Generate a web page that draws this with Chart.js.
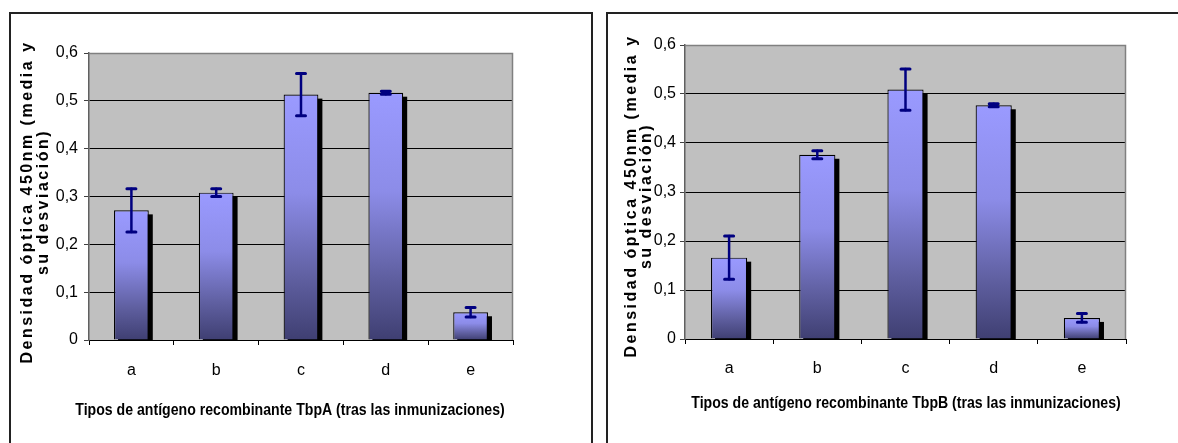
<!DOCTYPE html>
<html>
<head>
<meta charset="utf-8">
<script src="https://cdn.jsdelivr.net/npm/chart.js@4.4.1/dist/chart.umd.min.js"></script>
<style>
  html, body { margin: 0; padding: 0; background: #fff; overflow: hidden; width: 1178px; height: 443px; }
  .box { position: absolute; border: 2px solid #222; border-bottom: none; box-sizing: border-box; }
  #boxA { left: 9px; top: 12px; width: 584px; height: 440px; }
  #boxB { left: 606px; top: 12px; width: 600px; height: 440px; }
  canvas { position: absolute; left: 0; top: 0; }
</style>
</head>
<body>
<div class="box" id="boxA"><canvas id="chartA" width="580" height="429"></canvas></div>
<div class="box" id="boxB"><canvas id="chartB" width="572" height="429"></canvas></div>
<script>
// data
const categories = ['a', 'b', 'c', 'd', 'e'];
const tbpaMeans = [0.271, 0.308, 0.513, 0.517, 0.058];
const tbpaSd = [0.045, 0.008, 0.044, 0.003, 0.010];
const tbpbMeans = [0.166, 0.376, 0.509, 0.477, 0.043];
const tbpbSd = [0.044, 0.008, 0.042, 0.003, 0.009];
const yTickLabels = ['0', '0,1', '0,2', '0,3', '0,4', '0,5', '0,6'];
const yTitleLines = ['Densidad óptica 450nm (media y', 'su desviación)'];
const xTitleA = 'Tipos de antígeno recombinante TbpA (tras las inmunizaciones)';
const xTitleB = 'Tipos de antígeno recombinante TbpB (tras las inmunizaciones)';

const sans = '"Liberation Sans", Arial, sans-serif';

// grey plot area + right border
const plotBg = {
  id: 'plotBg',
  beforeDraw(chart) {
    const { ctx, chartArea: a } = chart;
    ctx.save();
    ctx.fillStyle = '#c0c0c0';
    ctx.fillRect(a.left, a.top, a.right - a.left, a.bottom - a.top);
    ctx.restore();
  },
  beforeDatasetsDraw(chart) {
    const { ctx, chartArea: a } = chart;
    ctx.save();
    ctx.strokeStyle = '#808080';
    ctx.lineWidth = 1.5;
    ctx.beginPath();
    ctx.moveTo(a.left, a.top + 0.5);
    ctx.lineTo(a.right - 0.5, a.top + 0.5);
    ctx.lineTo(a.right - 0.5, a.bottom);
    ctx.stroke();
    ctx.restore();
  }
};

// black drop shadow behind each bar
const barShadow = {
  id: 'barShadow',
  beforeDatasetsDraw(chart) {
    const { ctx, chartArea: a } = chart;
    const meta = chart.getDatasetMeta(0);
    ctx.save();
    ctx.beginPath();
    ctx.rect(a.left, a.top, a.right - a.left, a.bottom - a.top);
    ctx.clip();
    ctx.fillStyle = '#000';
    meta.data.forEach(bar => {
      const p = bar.getProps(['x', 'y', 'base', 'width'], true);
      ctx.fillRect(p.x - p.width / 2 + 4, p.y + 4, p.width, p.base - p.y);
    });
    ctx.restore();
  }
};

// error bars from the sd arrays
const errorBars = {
  id: 'errorBars',
  afterDatasetsDraw(chart, args, opts) {
    const { ctx } = chart;
    const y = chart.scales.y;
    const meta = chart.getDatasetMeta(0);
    const means = chart.data.datasets[0].data;
    ctx.save();
    ctx.strokeStyle = '#000080';
    ctx.lineCap = 'round';
    meta.data.forEach((bar, i) => {
      const x = bar.x;
      const top = y.getPixelForValue(means[i] + opts.sd[i]);
      const bot = y.getPixelForValue(means[i] - opts.sd[i]);
      ctx.lineWidth = 2.5;
      ctx.beginPath();
      ctx.moveTo(x, top);
      ctx.lineTo(x, bot);
      ctx.stroke();
      ctx.lineWidth = 3;
      ctx.beginPath();
      ctx.moveTo(x - 4.5, top);
      ctx.lineTo(x + 4.5, top);
      ctx.moveTo(x - 4.5, bot);
      ctx.lineTo(x + 4.5, bot);
      ctx.stroke();
    });
    ctx.restore();
  }
};

// axis titles: rotated letter-spaced y title, narrow bold x title
const axisTitles = {
  id: 'axisTitles',
  afterDraw(chart, args, opts) {
    const { ctx } = chart;
    ctx.save();
    ctx.translate(opts.yx, opts.yy);
    ctx.rotate(-Math.PI / 2);
    ctx.font = 'bold 16px ' + sans;
    ctx.letterSpacing = '2.5px';
    ctx.fillStyle = '#000';
    ctx.textAlign = 'center';
    ctx.textBaseline = 'middle';
    yTitleLines.forEach((line, i) => ctx.fillText(line, 0, i * opts.gap));
    ctx.restore();

    ctx.save();
    ctx.translate(opts.xx, opts.xy);
    ctx.scale(0.83, 1);
    ctx.font = 'bold 17px ' + sans;
    ctx.fillStyle = '#000';
    ctx.textAlign = 'center';
    ctx.textBaseline = 'middle';
    ctx.fillText(opts.text, 0, 0);
    ctx.restore();
  }
};

function barGradient(context) {
  const chart = context.chart;
  if (!chart.chartArea || context.raw === undefined) return '#9999ff';
  const y = chart.scales.y;
  const top = y.getPixelForValue(context.raw);
  const bottom = y.getPixelForValue(0);
  const g = chart.ctx.createLinearGradient(0, top, 0, bottom);
  g.addColorStop(0, '#9a9aff');
  g.addColorStop(0.4, '#8c8ce8');
  g.addColorStop(0.75, '#5f5fa0');
  g.addColorStop(1, '#3f3f72');
  return g;
}

function makeChart(id, means, sd, xTitle, lay) {
  return new Chart(document.getElementById(id), {
    type: 'bar',
    data: {
      labels: categories,
      datasets: [{
        data: means,
        backgroundColor: barGradient,
        borderColor: '#000',
        borderWidth: 1.2,
        borderSkipped: 'bottom',
        barPercentage: 0.41,
        categoryPercentage: 1
      }]
    },
    options: {
      responsive: false,
      animation: false,
      events: [],
      layout: { padding: { left: 0, top: lay.top, right: lay.right, bottom: 0 } },
      plugins: {
        legend: { display: false },
        tooltip: { enabled: false },
        errorBars: { sd: sd },
        axisTitles: { yx: lay.titleX, yy: lay.titleY, gap: lay.titleGap, xx: lay.xTitleX, xy: lay.xTitleY, text: xTitle }
      },
      scales: {
        x: {
          afterFit: s => { s.height = lay.xHeight; },
          grid: { offset: true, drawOnChartArea: false, drawTicks: true, tickLength: 5, color: '#000' },
          border: { color: '#000', width: 1 },
          ticks: { color: '#000', padding: lay.xPad, font: { family: sans, size: 16 } }
        },
        y: {
          min: 0, max: 0.6,
          afterFit: s => { s.width = lay.yWidth; },
          afterBuildTicks: s => { s.ticks = yTickLabels.map((t, i) => ({ value: i / 10 })); },
          grid: {
            color: c => (c.tick && c.tick.value >= 0.59 ? '#808080' : '#000'),
            lineWidth: 1,
            tickLength: 5,
            tickColor: '#404040'
          },
          border: { color: '#606060', width: 1.5 },
          ticks: {
            color: '#000', padding: lay.yPad,
            font: { family: sans, size: 16 },
            callback: (v, i) => yTickLabels[i]
          }
        }
      }
    },
    plugins: [plotBg, barShadow, errorBars, axisTitles]
  });
}

makeChart('chartA', tbpaMeans, tbpaSd, xTitleA, {
  top: 39, right: 78, xHeight: 103, yWidth: 78, xPad: 16, yPad: 6,
  titleX: 17, titleY: 188, titleGap: 16, xTitleX: 279, xTitleY: 396
});
makeChart('chartB', tbpbMeans, tbpbSd, xTitleB, {
  top: 31, right: 54, xHeight: 104, yWidth: 77, xPad: 15, yPad: 4,
  titleX: 24, titleY: 182, titleGap: 15, xTitleX: 298, xTitleY: 389
});
</script>
</body>
</html>
